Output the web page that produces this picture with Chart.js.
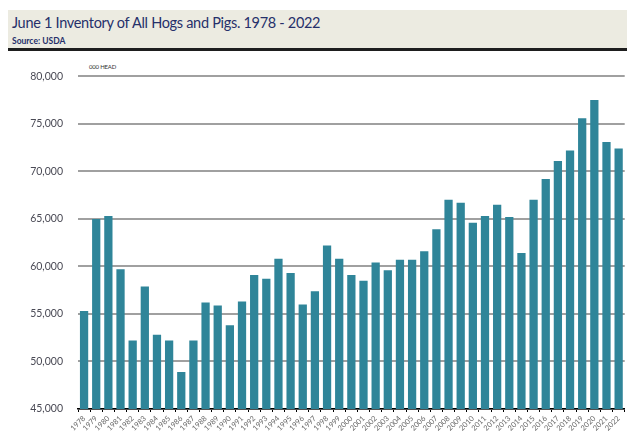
<!DOCTYPE html>
<html>
<head>
<meta charset="utf-8">
<script src="https://cdn.jsdelivr.net/npm/chart.js@4"></script>
<style>
    body { margin: 0; width: 627px; height: 438px; background: #fff; overflow: hidden; position: relative; font-family: Lato, sans-serif; }
    #band { position: absolute; left: 8px; top: 10px; width: 619px; height: 38px; background: #ecebe1; border-bottom: 3px solid #1e1e1e; }
    #title { position: absolute; left: 4px; top: 4px; font-size: 14.5px; letter-spacing: -0.3px; color: #26306a; white-space: nowrap; }
    #source { position: absolute; left: 4px; top: 26px; font-size: 8.5px; font-weight: bold; color: #26306a; }
    #unit { position: absolute; left: 89px; top: 63px; font-size: 6px; color: #333; letter-spacing: -0.2px; }
    #wrap { position: absolute; left: 0; top: 55px; width: 627px; height: 383px; }
</style>
</head>
<body>
<div id="band">
    <div id="title">June 1 Inventory of All Hogs and Pigs. 1978 - 2022</div>
    <div id="source">Source: USDA</div>
</div>
<div id="unit">000 HEAD</div>
<div id="wrap"><canvas id="myChart"></canvas></div>
<script>
    const years = ['1978','1979','1980','1981','1982','1983','1984','1985','1986','1987',
        '1988','1989','1990','1991','1992','1993','1994','1995','1996','1997',
        '1998','1999','2000','2001','2002','2003','2004','2005','2006','2007',
        '2008','2009','2010','2011','2012','2013','2014','2015','2016','2017',
        '2018','2019','2020','2021','2022'];

    // thousand head
    const inventory = [55300, 65000, 65300, 59700, 52200, 57900, 52800, 52200, 48900, 52200,
        56200, 55900, 53800, 56300, 59100, 58700, 60800, 59300, 56000, 57400,
        62200, 60800, 59100, 58500, 60400, 59600, 60700, 60700, 61600, 63900,
        67000, 66700, 64600, 65300, 66500, 65200, 61400, 67000, 69200, 71100,
        72200, 75600, 77500, 73100, 72400];

    const yTicks = [45000, 50000, 55000, 60000, 65000, 70000, 75000, 80000];

    const ctx = document.getElementById('myChart').getContext('2d');

    const myChart = new Chart(ctx, {
        type: 'bar',
        data: {
            labels: years,
            datasets: [{
                label: 'Inventory',
                data: inventory,
                backgroundColor: '#2f8599',
                categoryPercentage: 1,
                barPercentage: 0.68
            }]
        },
        options: {
            responsive: true,
            maintainAspectRatio: false,
            animation: false,
            layout: { padding: { left: 0, right: 0, top: 0, bottom: 0 } },
            plugins: {
                legend: { display: false },
                tooltip: { enabled: false }
            },
            scales: {
                x: {
                    afterFit: (scale) => { scale.height = 29; },
                    grid: { display: true, drawOnChartArea: false, drawTicks: true, tickLength: 3, color: '#000', lineWidth: 1 },
                    border: { display: true, color: '#000', width: 1.5 },
                    ticks: {
                        autoSkip: false,
                        minRotation: 45,
                        maxRotation: 45,
                        padding: 2,
                        color: '#666',
                        font: { family: 'Lato', size: 7.5 }
                    }
                },
                y: {
                    min: 45000,
                    max: 80000,
                    afterFit: (scale) => { scale.width = 78; },
                    afterBuildTicks: (scale) => { scale.ticks = yTicks.map(v => ({ value: v })); },
                    grid: { color: '#a0a0a0', lineWidth: 2, drawTicks: false },
                    border: { display: false },
                    ticks: {
                        padding: 15,
                        color: '#4a4a55',
                        font: { family: 'Lato', size: 10.5 },
                        callback: (v) => v.toLocaleString('en-US')
                    }
                }
            }
        }
    });
</script>
</body>
</html>
